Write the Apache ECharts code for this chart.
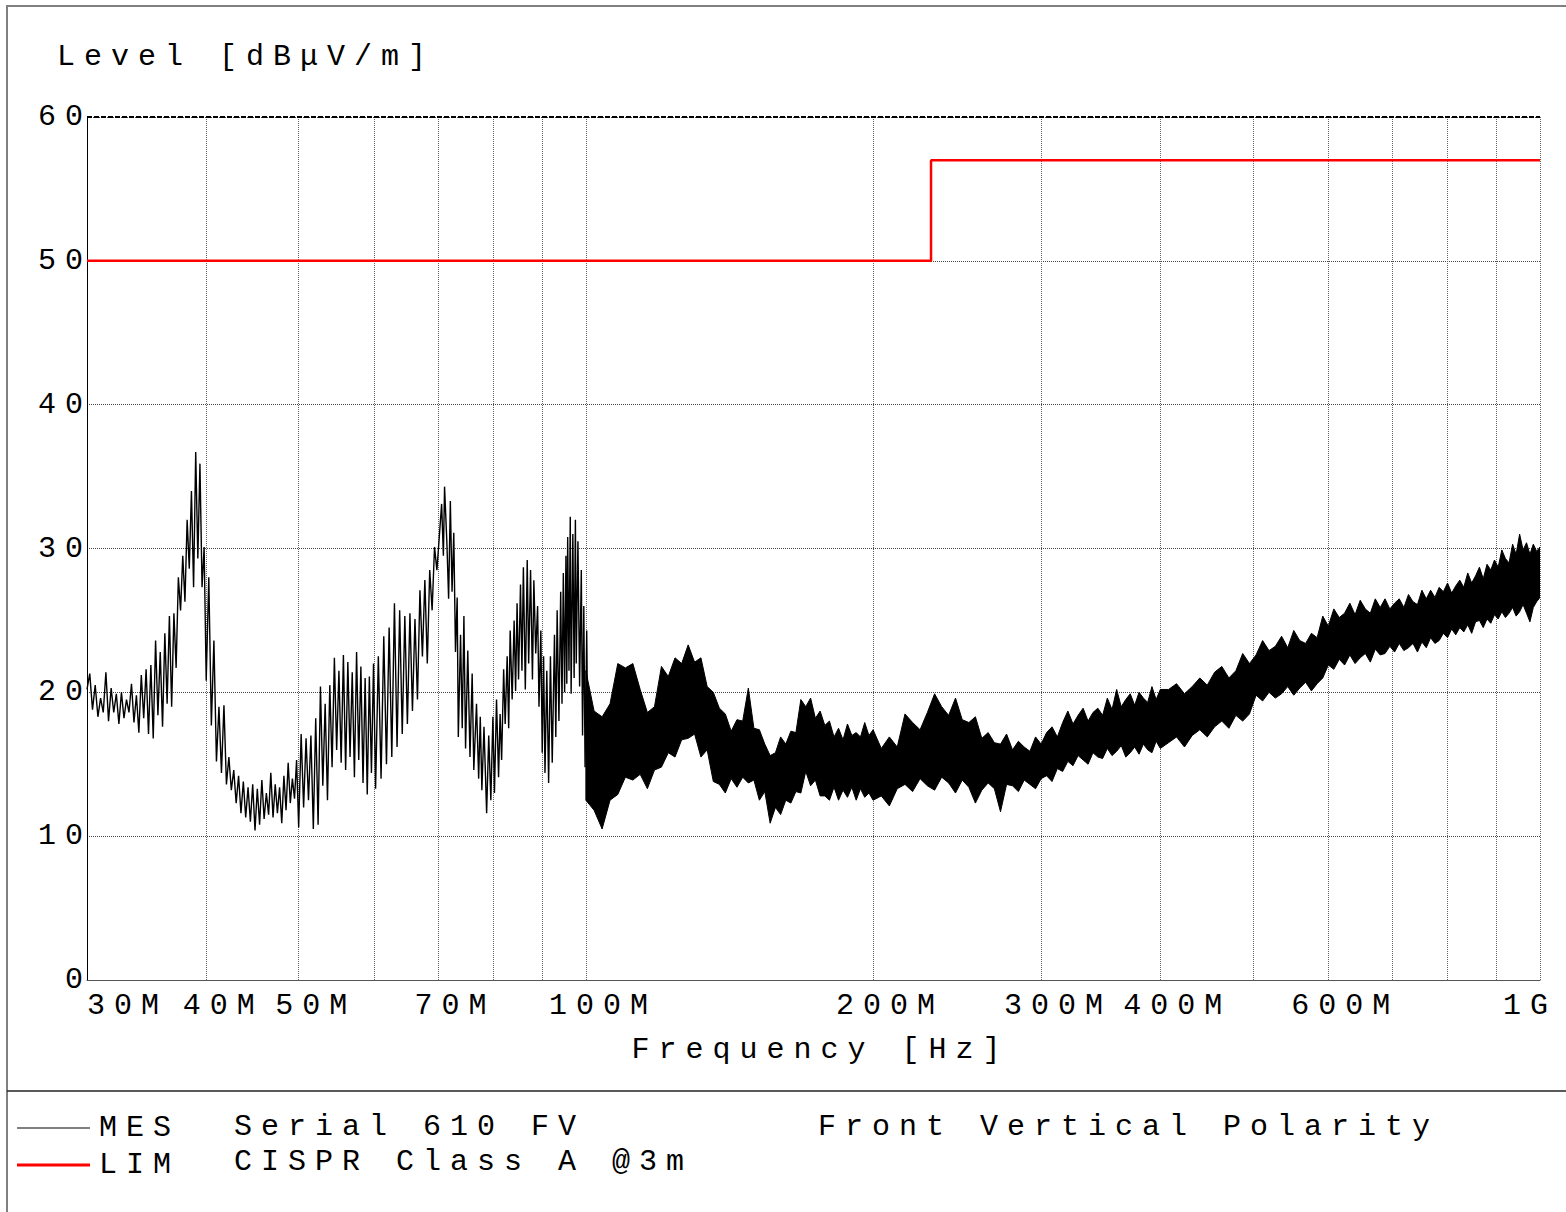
<!DOCTYPE html>
<html><head><meta charset="utf-8">
<script src="https://cdn.jsdelivr.net/npm/echarts@6/dist/echarts.min.js"></script>
<style>
html,body{margin:0;padding:0;background:#fff;}
#c{width:1566px;height:1212px;}
#c text{letter-spacing:9px;}
</style></head><body><div id="c"></div>
<script>
// ---- axis ticks / labels ----
const xTickMHz = [30,40,50,60,70,80,90,100,200,300,400,500,600,700,800,900,1000];
const xLabelMHz = [30,40,50,70,100,200,300,400,600,1000];
const xLabelText = ['30M','40M','50M','70M','100M','200M','300M','400M','600M','1G'];
const yTicks = [0,10,20,30,40,50,60];

// ---- limit line (CISPR Class A @3m) ----
const limitFreq = [30,230,230,1000];
const limitLevel = [50,50,57,57];

// ---- measured trace, resolved part 30-100 MHz [MHz, dBuV/m] ----
const mesLow = [
[30.0,20.2],[30.2,21.3],[30.4,18.8],[30.6,20.5],[30.8,18.3],[31.0,19.6],[31.2,18.6],[31.4,21.4],[31.6,18.0],[31.8,20.3],
[32.0,18.6],[32.2,19.9],[32.4,17.8],[32.6,20.0],[32.8,18.2],[33.0,19.5],[33.2,18.6],[33.4,20.6],[33.6,17.9],[33.8,19.8],
[34.0,17.2],[34.2,21.2],[34.4,18.2],[34.6,21.6],[34.8,17.1],[35.0,21.9],[35.2,16.8],[35.4,23.6],[35.6,18.4],[35.8,22.8],
[36.0,17.6],[36.2,24.1],[36.4,19.2],[36.6,25.3],[36.8,19.0],[37.0,25.5],[37.2,21.7],[37.4,28.0],[37.6,25.7],[37.8,29.5],
[38.0,26.3],[38.2,32.0],[38.4,28.6],[38.6,34.0],[38.8,27.3],[39.0,36.7],[39.2,29.3],[39.4,35.9],[39.6,27.3],[39.8,30.1],
[40.0,20.8],[40.25,28.0],[40.5,17.7],[40.75,23.6],[41.0,15.2],[41.25,19.0],[41.5,14.4],[41.75,19.1],[42.0,13.6],[42.25,15.5],
[42.5,13.2],[42.75,14.6],[43.0,12.3],[43.25,14.2],[43.5,11.6],[43.75,13.8],[44.0,11.3],[44.25,13.4],[44.5,11.0],[44.75,13.6],
[45.0,10.4],[45.25,13.3],[45.5,10.8],[45.75,13.9],[46.0,11.2],[46.25,13.0],[46.5,11.5],[46.75,14.4],[47.0,11.3],[47.25,13.6],
[47.5,11.6],[47.75,13.4],[48.0,10.9],[48.25,14.2],[48.5,11.8],[48.75,15.1],[49.0,12.3],[49.25,14.0],[49.5,12.6],[49.75,15.3],
[50.0,10.6],[50.3,17.1],[50.6,12.0],[50.9,16.8],[51.2,12.5],[51.5,17.0],[51.8,10.5],[52.1,18.2],[52.4,10.8],[52.7,20.4],
[53.0,13.5],[53.3,19.2],[53.6,12.5],[53.9,20.5],[54.2,14.8],[54.5,22.4],[54.8,16.0],[55.1,21.5],[55.4,15.1],[55.7,22.6],
[56.0,14.6],[56.3,22.1],[56.6,15.5],[56.9,21.4],[57.2,14.1],[57.5,22.8],[57.8,15.3],[58.1,21.8],[58.4,13.7],[58.7,21.0],
[59.0,12.9],[59.3,21.1],[59.6,14.4],[59.9,22.0],[60.2,13.3],[60.6,22.5],[61.0,14.0],[61.4,23.9],[61.8,15.0],[62.2,24.5],
[62.6,15.5],[63.0,26.2],[63.4,16.2],[63.8,25.7],[64.2,17.1],[64.6,25.3],[65.0,17.8],[65.4,25.5],[65.8,18.7],[66.2,25.1],
[66.6,19.5],[67.0,27.1],[67.4,22.5],[67.8,27.8],[68.2,22.0],[68.6,28.5],[69.0,25.7],[69.4,30.1],[69.8,28.5],[70.2,30.8],
[70.6,33.1],[70.9,29.5],[71.1,34.3],[71.5,30.4],[71.8,26.5],[72.1,33.3],[72.4,27.0],[72.7,31.1],[73.0,22.8],[73.3,26.6],
[73.5,16.9],[73.9,24.0],[74.2,17.5],[74.5,25.3],[74.8,16.1],[75.2,22.9],[75.6,15.5],[76.0,21.3],[76.3,14.6],[76.8,19.2],
[77.2,14.0],[77.5,18.3],[77.8,13.2],[78.2,17.6],[78.7,11.6],[79.1,17.0],[79.5,12.5],[79.9,18.3],[80.2,13.0],[80.6,19.5],
[81.0,14.1],[81.3,18.5],[81.6,15.3],[82.0,21.6],[82.3,17.8],[82.7,22.5],[83.0,17.5],[83.3,24.3],[83.7,19.5],[84.1,25.0],
[84.4,20.1],[84.7,26.2],[85.0,20.9],[85.4,27.5],[85.7,21.5],[86.0,28.7],[86.4,20.2],[86.8,29.2],[87.1,22.0],[87.5,28.5],
[87.9,20.9],[88.2,27.8],[88.6,22.7],[89.0,26.0],[89.3,19.0],[89.7,24.3],[90.0,15.8],[90.3,22.5],[90.6,14.4],[91.0,21.5],
[91.4,13.7],[91.8,22.5],[92.2,15.1],[92.7,24.0],[93.0,16.9],[93.3,25.7],[93.7,18.0],[94.1,27.0],[94.4,19.2],[94.7,28.3],
[95.0,20.0],[95.3,29.5],[95.5,20.6],[95.7,30.8],[96.0,21.5],[96.3,32.2],[96.5,19.9],[96.9,31.0],[97.2,21.0],[97.5,32.0],
[97.7,22.0],[98.1,30.5],[98.5,20.4],[98.9,28.5],[99.2,17.0],[99.5,26.0],[99.8,14.8],[100.2,24.3],[100.6,12.5]
];

// ---- measured trace, dense part 100 MHz - 1 GHz: upper / lower envelope ----
const bandFreq = [
100,102,104,106,108,110,112,114,116,118,120,122,124,126,128,130,132,134,136,138,140,142,144,146,148,150,152,154,156,158,160,162,164,166,168,170,172,174,176,178,180,182,184,186,188,190,192,194,196,198,200,
204,208,212,216,220,224,228,232,236,240,244,248,252,256,260,264,268,272,276,280,284,288,292,296,300,304,308,312,316,320,324,328,332,336,340,344,348,352,356,360,364,368,372,376,380,384,388,392,396,400,
408,416,424,432,440,448,456,464,472,480,488,496,504,512,520,528,536,544,552,560,568,576,584,592,600,608,616,624,632,640,648,656,664,672,680,688,696,704,712,720,728,736,744,752,760,768,776,784,792,800,808,816,824,832,840,848,856,864,872,880,888,896,904,912,920,928,936,944,952,960,968,976,984,992,1000
];
const bandHigh = [
21.5,18.7,18.3,19.2,22.0,21.7,22.0,20.2,18.6,19.0,21.8,21.1,22.4,22.0,23.3,22.1,22.4,20.4,20.0,18.9,18.5,17.3,18.1,18.0,20.3,17.5,17.4,16.4,15.6,15.8,16.9,16.4,17.3,17.2,19.5,19.0,19.6,18.2,18.7,17.7,18.0,16.9,17.5,16.7,17.8,17.0,17.2,16.9,17.9,17.0,17.4,
16.1,16.9,16.2,18.5,17.9,17.4,18.6,19.9,19.0,18.4,19.6,18.1,17.9,18.3,16.8,17.2,16.5,16.4,17.1,16.0,16.6,16.2,15.9,16.9,16.4,17.2,17.6,16.9,17.9,18.7,17.8,18.4,18.9,18.0,18.6,18.9,18.4,19.6,18.8,20.2,19.0,19.5,19.9,19.1,20.0,19.6,19.3,20.4,19.5,20.2,
20.2,20.6,19.9,20.4,21.0,20.5,21.4,21.8,21.0,21.5,22.7,22.0,
22.6,23.6,22.9,23.2,23.9,23.1,24.3,23.6,23.4,24.1,23.8,
25.3,24.6,25.8,25.2,25.5,26.2,25.4,26.4,25.8,25.5,26.5,25.9,
26.5,25.8,26.2,26.5,25.9,26.8,26.3,26.1,27.1,26.5,27.1,26.6,27.3,
27.0,27.6,26.9,27.4,27.8,27.3,28.3,27.6,28.1,28.7,27.9,28.9,
28.5,29.2,28.7,29.9,29.3,29.0,30.3,29.6,31.0,29.9,30.4,29.6,30.3,29.8,30.1
];
const bandLow = [
12.5,11.8,10.5,12.5,12.9,14.1,13.9,14.3,13.3,14.6,14.8,15.8,15.5,16.7,16.8,17.1,15.5,16.0,13.8,13.6,13.0,14.0,13.4,14.1,13.7,13.9,12.5,13.1,10.9,12.0,11.5,12.5,12.3,13.1,13.0,14.5,13.5,13.9,12.8,12.8,12.5,13.4,12.5,13.2,12.7,13.4,12.5,13.3,12.7,13.0,12.5,
12.8,12.1,13.3,13.6,13.1,14.0,13.5,13.2,14.1,13.7,13.0,13.9,13.4,12.3,13.2,13.7,13.3,11.7,13.6,13.5,13.1,13.9,13.6,13.3,14.0,14.2,13.8,14.7,14.5,15.2,14.9,15.6,15.3,15.0,15.8,15.5,15.4,16.1,15.6,15.9,16.3,15.5,15.8,16.2,15.7,16.4,16.0,15.8,16.6,16.1,
16.5,16.9,16.2,17.0,17.4,16.9,17.6,18.0,17.5,18.4,18.0,18.5,
19.8,19.4,20.0,19.6,19.9,20.4,19.8,20.3,20.7,20.1,20.6,
21.0,21.9,21.6,22.3,21.9,22.6,22.0,22.4,22.7,22.1,23.0,22.6,
22.7,23.2,22.8,23.4,22.9,23.1,23.4,22.8,23.5,23.1,23.8,23.4,23.6,
24.1,23.8,24.4,24.0,24.5,24.2,24.7,24.1,24.9,25.0,24.5,25.1,
24.8,25.4,25.1,25.6,25.2,25.5,25.9,25.3,25.6,26.1,25.5,24.9,25.9,26.3,26.6
];

// ---- build ----
const FONT = 'Liberation Mono';
const FS = 30;
const lg = v => Math.log10(v);
const chart = echarts.init(document.getElementById('c'), null, {renderer: 'svg'});
const labelFor = v => {
  let best = 0, d = 1e9;
  xLabelMHz.forEach((f, i) => { const dd = Math.abs(lg(f) - v); if (dd < d) { d = dd; best = i; } });
  const style = best === 0 ? 'a' : (best === xLabelMHz.length - 1 ? 'z' : 't');
  return '{' + style + '|' + xLabelText[best] + '}';
};
const mesLowData = mesLow.map(p => [lg(p[0]), p[1]]);
const bandData = bandFreq.map((f, i) => [lg(f), bandLow[i], bandHigh[i]]);
const limitData = limitFreq.map((f, i) => [lg(f), limitLevel[i]]);
const txt = (x, y, s) => ({type: 'text', silent: true, x: x, y: y,
  style: {text: s, fontFamily: FONT, fontSize: FS, fill: '#000', verticalAlign: 'middle', textVerticalAlign: 'middle'}});

chart.setOption({
  animation: false,
  backgroundColor: '#fff',
  grid: {left: 87, right: 26, top: 117, bottom: 232, containLabel: false},
  xAxis: {
    type: 'value', min: lg(30), max: lg(1000),
    axisLine: {show: true, lineStyle: {color: '#555', width: 1}},
    axisTick: {show: false, customValues: xTickMHz.map(lg)},
    axisLabel: {
      customValues: xLabelMHz.map(lg), formatter: labelFor, margin: 11,
      alignMinLabel: 'left',
      rich: {
        a: {fontFamily: FONT, fontSize: FS, color: '#000'},
        t: {fontFamily: FONT, fontSize: FS, color: '#000', padding: [0, 0, 0, 34]},
        z: {fontFamily: FONT, fontSize: FS, color: '#000', padding: [0, 20, 0, 0]}
      }
    },
    splitLine: {show: true, lineStyle: {color: '#666', type: 'dotted', width: 1}},
    name: 'Frequency [Hz]', nameLocation: 'middle', nameGap: 55,
    nameTextStyle: {fontFamily: FONT, fontSize: FS, color: '#000', padding: [0, 0, 0, 14]}
  },
  yAxis: {
    type: 'value', min: yTicks[0], max: yTicks[yTicks.length - 1], interval: 10,
    axisLine: {show: true, lineStyle: {color: '#000', width: 1}},
    axisTick: {show: false},
    axisLabel: {margin: -5, fontFamily: FONT, fontSize: FS, color: '#000'},
    splitLine: {show: true, lineStyle: {color: '#444', type: 'dotted', width: 1}}
  },
  legend: {
    orient: 'vertical', left: 17, top: 1113, padding: 0, itemWidth: 73, itemHeight: 14, itemGap: 7,
    selectedMode: false, symbolKeepAspect: true,
    data: [
      {name: 'MES', icon: 'path://M0,0H73V1H0Z'},
      {name: 'LIM', icon: 'path://M0,0H73V3H0Z'}
    ],
    textStyle: {fontFamily: FONT, fontSize: FS, color: '#000', lineHeight: 28, padding: [0, 0, 0, 4]}
  },
  graphic: [
    {type: 'rect', silent: true, shape: {x: 7, y: 6, width: 1640, height: 1300}, style: {fill: 'none', stroke: '#808080', lineWidth: 2}},
    {type: 'line', silent: true, shape: {x1: 7, y1: 1091, x2: 1566, y2: 1091}, style: {stroke: '#222', lineWidth: 1.5}},
    txt(57, 57, 'Level [dBμV/m]'),
    txt(234, 1127, 'Serial 610 FV'),
    txt(818, 1127, 'Front Vertical Polarity'),
    txt(234, 1162, 'CISPR Class A @3m')
  ],
  series: [
    {name: 'MES', type: 'line', data: mesLowData, symbol: 'none', lineStyle: {color: '#000', width: 1.4}, itemStyle: {color: '#000'}, z: 3},
    {name: 'MES', type: 'custom', coordinateSystem: 'cartesian2d', data: bandData, encode: {x: 0, y: [1, 2]}, clip: true, z: 3,
      itemStyle: {color: '#000'},
      renderItem: (params, api) => {
        if (params.dataIndex !== 0) return null;
        const top = bandFreq.map((f, i) => api.coord([lg(f), bandHigh[i]]));
        const bot = bandFreq.map((f, i) => api.coord([lg(f), bandLow[i]])).reverse();
        return {type: 'polygon', shape: {points: top.concat(bot)}, style: {fill: '#000', stroke: '#000', lineWidth: 1}};
      }},
    {name: 'LIM', type: 'line', data: limitData, symbol: 'none', lineStyle: {color: '#ff0000', width: 2.5}, itemStyle: {color: '#ff0000'}, z: 4,
      markLine: {silent: true, symbol: ['none', 'none'], label: {show: false}, lineStyle: {color: '#000', type: [5, 2], width: 2}, data: [{yAxis: 60}]}}
  ]
});
</script></body></html>
